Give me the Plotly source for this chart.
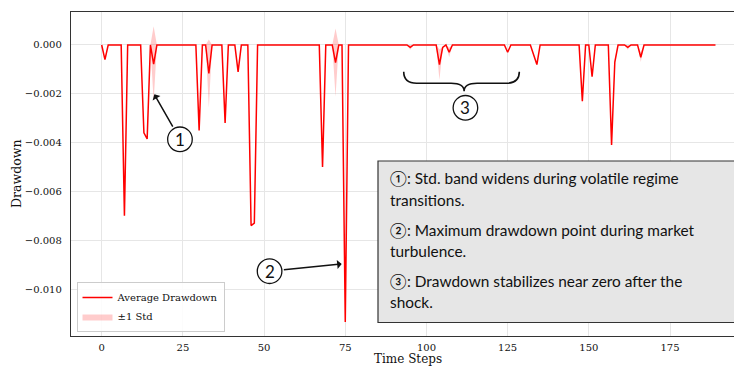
import numpy as np
import plotly.graph_objects as go

# ---------------- data ----------------
time_steps = list(range(190))

# non-zero average drawdown values (time step -> value); all other steps are 0
dd_nonzero = {
    1: -0.0006, 7: -0.0070, 13: -0.0036, 14: -0.00385, 16: -0.00078,
    30: -0.0035, 33: -0.00117, 38: -0.0032, 42: -0.0011, 46: -0.0074,
    47: -0.0073, 68: -0.0050, 72: -0.00072, 75: -0.01135, 95: -0.0001,
    104: -0.0008, 105: -0.0001, 107: -0.0003, 125: -0.0003, 133: -0.0004,
    134: -0.0008, 148: -0.0023, 151: -0.0013, 157: -0.0041, 158: -0.0007,
    162: -0.0001, 166: -0.0005,
}
# non-zero standard deviations across runs
std_nonzero = {
    16: 0.00155, 33: 0.0014, 72: 0.0014, 75: 0.0002, 95: 0.0001,
    104: 0.00063, 107: 0.0002, 148: 0.0001, 157: 0.0001, 158: 0.0001,
    162: 0.0001, 166: 0.0002,
}
avg_drawdown = [dd_nonzero.get(t, 0.0) for t in time_steps]
std_drawdown = [std_nonzero.get(t, 0.0) for t in time_steps]

x_ticks = [0, 25, 50, 75, 100, 125, 150, 175]
y_ticks = [0.0, -0.002, -0.004, -0.006, -0.008, -0.010]

notes = [
    ["①: Std. band widens during volatile regime", "transitions."],
    ["②: Maximum drawdown point during market", "turbulence."],
    ["③: Drawdown stabilizes near zero after the", "shock."],
]

# ---------------- layout helpers ----------------
W, H = 734, 367
ML, MR, MT, MB = 71, 0, 12, 31
PW, PH = W - ML - MR, H - MT - MB


def px_x(p):
    # window pixel -> paper x
    return (p - ML) / PW


def px_y(p):
    # window pixel -> paper y
    return (H - MB - p) / PH


mean = np.array(avg_drawdown)
std = np.array(std_drawdown)
upper = mean + std
lower = mean - std

fig = go.Figure()
fig.add_trace(go.Scatter(x=time_steps, y=upper, mode="lines",
                         line=dict(width=0, color="rgba(255,0,0,0.2)"),
                         showlegend=False, hoverinfo="skip"))
fig.add_trace(go.Scatter(x=time_steps, y=lower, mode="lines", fill="tonexty",
                         fillcolor="rgba(255,0,0,0.2)",
                         line=dict(width=0, color="rgba(255,0,0,0.2)"),
                         name="±1 Std", legendrank=2))
fig.add_trace(go.Scatter(x=time_steps, y=mean, mode="lines",
                         line=dict(color="#ff0000", width=1.5),
                         name="Average Drawdown", legendrank=1))

serif = "DejaVu Serif"
sans = "Lato, DejaVu Sans"

fig.update_layout(
    width=W, height=H,
    margin=dict(l=ML, r=MR, t=MT, b=MB, pad=0, autoexpand=False),
    paper_bgcolor="white", plot_bgcolor="white",
    font=dict(family=serif, size=10, color="#111"),
    showlegend=True,
    legend=dict(x=px_x(76.5), y=px_y(332), xanchor="left", yanchor="bottom",
                traceorder="normal",
                bgcolor="rgba(255,255,255,0.85)", bordercolor="#cccccc",
                borderwidth=1, font=dict(family=serif, size=10, color="#111"),
                itemwidth=30, tracegroupgap=0),
    xaxis=dict(range=[-9.45, 194.7], tickvals=x_ticks, showgrid=True,
               gridcolor="#e6e6e6", gridwidth=1, zeroline=False,
               showline=True, linecolor="#333", linewidth=1.3, mirror=True,
               ticks="", ticklabelstandoff=2,
               tickfont=dict(family=serif, size=10, color="#111")),
    yaxis=dict(range=[-0.011926, 0.001352], tickvals=y_ticks,
               tickformat=".3f", showgrid=True,
               gridcolor="#e6e6e6", gridwidth=1, zeroline=False,
               showline=True, linecolor="#333", linewidth=1.3,
               ticks="", ticklabelstandoff=6,
               tickfont=dict(family=serif, size=10, color="#111")),
)

# axis titles
fig.add_annotation(text="Time Steps", xref="paper", yref="paper",
                   x=px_x(408), y=px_y(358.5), xanchor="center",
                   yanchor="middle", showarrow=False,
                   font=dict(family=serif, size=12, color="#111"))
fig.add_annotation(text="Drawdown", xref="paper", yref="paper",
                   x=px_x(16), y=px_y(174), xanchor="center", yanchor="middle",
                   showarrow=False, textangle=-90,
                   font=dict(family=serif, size=12.5, color="#111"))

# note box
fig.add_shape(type="rect", xref="paper", yref="paper",
              x0=px_x(378), x1=1.02, y0=px_y(322.5), y1=px_y(161),
              fillcolor="#e6e6e6", line=dict(color="#333", width=1.2),
              layer="above")
baselines = [183, 205, 235, 256, 286, 306.5]
k = 0
for para in notes:
    for line in para:
        fig.add_annotation(text=line, xref="paper", yref="paper",
                           x=px_x(387.5), y=px_y(baselines[k] - 5),
                           xanchor="left", yanchor="middle", showarrow=False,
                           font=dict(family=sans, size=15.4, color="#111"))
        k += 1

# circled markers with arrows
markers = [
    # label, center x, center y, arrow tip x, arrow tip y
    ("1", 24.1, -0.003865, 16.2, -0.00202),
    ("2", 51.7, -0.00927, 73.9, -0.008975),
    ("3", 112.0, -0.002574, None, None),
]
R = 12.3
for lab, cx, cy, tx, ty in markers:
    fig.add_shape(type="circle", xref="x", yref="y",
                  xsizemode="pixel", ysizemode="pixel",
                  xanchor=cx, yanchor=cy, x0=-R, x1=R, y0=-R, y1=R,
                  fillcolor="white", line=dict(color="#111", width=1.3),
                  layer="above")
    fig.add_annotation(text=lab, xref="x", yref="y", x=cx, y=cy,
                       xanchor="center", yanchor="middle",
                       showarrow=False,
                       font=dict(family=sans, size=17, color="#111"))
    if tx is not None:
        fig.add_annotation(text="", xref="x", yref="y", x=tx, y=ty,
                           axref="x", ayref="y", ax=cx, ay=cy,
                           showarrow=True, arrowhead=1, arrowsize=1,
                           arrowwidth=1.5, arrowcolor="#111",
                           startstandoff=R + 0.5, standoff=0)

# curly brace over region 3
bx0, bx1, bxc = 93.0, 128.6, 111.6
b_top, b_mid, b_tip = -0.0011, -0.00157, -0.0019
r = 4.0
brace = (f"M {bx0},{b_top} Q {bx0},{b_mid} {bx0 + r},{b_mid} "
         f"L {bxc - r},{b_mid} Q {bxc},{b_mid} {bxc},{b_tip} "
         f"Q {bxc},{b_mid} {bxc + r},{b_mid} "
         f"L {bx1 - r},{b_mid} Q {bx1},{b_mid} {bx1},{b_top}")
fig.add_shape(type="path", xref="x", yref="y", path=brace,
              line=dict(color="#111", width=1.6), layer="above")

# remove the page's default body margin so the figure fills the window
fig.write_html(
    "out.html",
    config={"displayModeBar": False},
    post_script="document.body.style.margin='0';"
                "document.body.style.overflow='hidden';",
)
